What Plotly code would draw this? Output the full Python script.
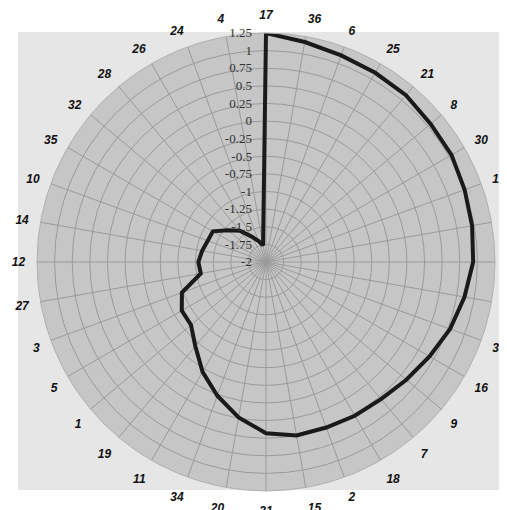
import plotly.graph_objects as go

categories = ["17", "36", "6", "25", "21", "8", "30", "13", "22", "23", "29", "33",
              "16", "9", "7", "18", "2", "15", "31", "20", "34", "11", "19", "1",
              "5", "3", "27", "12", "14", "10", "35", "32", "28", "26", "24", "4"]
values = [1.25, 1.17, 1.12, 1.10, 1.09, 1.05, 1.04, 1.00, 0.97, 0.94, 0.86, 0.78,
          0.68, 0.60, 0.54, 0.52, 0.50, 0.50, 0.43, 0.24, 0.02, -0.20, -0.44, -0.61,
          -0.62, -0.73, -1.06, -1.04, -1.08, -1.12, -1.13, -1.30, -1.42, -1.58, -1.68, -1.76]
radial_ticks = [-2, -1.75, -1.5, -1.25, -1, -0.75, -0.5, -0.25, 0, 0.25, 0.5, 0.75, 1, 1.25]
radial_labels = ["-2", "-1.75", "-1.5", "-1.25", "-1", "-0.75", "-0.5", "-0.25", "0",
                 "0.25", "0.5", "0.75", "1", "1.25"]

# page is offset by the 8px default body margin
OFF = 8
W, H = 507 - OFF, 510 - OFF
cx, cy, R = 266 - OFF, 262 - OFF, 229

fig = go.Figure()
fig.add_trace(go.Scatterpolar(
    r=values + values[:1],
    theta=categories + categories[:1],
    mode="lines",
    line=dict(color="#1a1a1a", width=4),
    hoverinfo="skip",
))

fig.add_shape(type="rect", xref="paper", yref="paper",
              x0=(18 - OFF) / W, x1=1, y0=1 - (490 - OFF) / H, y1=1 - (32 - OFF) / H,
              fillcolor="#e6e6e6", line=dict(width=0), layer="below")

fig.update_layout(
    width=W, height=H,
    margin=dict(l=0, r=0, t=0, b=0),
    paper_bgcolor="white",
    showlegend=False,
    polar=dict(
        domain=dict(x=[(cx - R) / W, (cx + R) / W],
                    y=[1 - (cy + R) / H, 1 - (cy - R) / H]),
        bgcolor="#c6c6c6",
        radialaxis=dict(
            range=[-2, 1.25],
            tickmode="array", tickvals=radial_ticks, ticktext=radial_labels,
            angle=90, tickangle=90, side="counterclockwise",
            showline=False, ticks="outside", ticklen=9, tickcolor="rgba(0,0,0,0)",
            gridcolor="#9a9a9a", gridwidth=1,
            tickfont=dict(family="Liberation Serif", size=13, color="#333333"),
        ),
        angularaxis=dict(
            type="category",
            categoryorder="array", categoryarray=categories,
            direction="clockwise", rotation=90,
            showline=True, linecolor="#b0b0b0", linewidth=1,
            gridcolor="#9a9a9a", gridwidth=1,
            ticks="outside", ticklen=9, tickcolor="rgba(0,0,0,0)",
            tickfont=dict(family="Liberation Sans", size=12, color="#111111",
                          weight="bold", style="italic"),
        ),
    ),
)

fig.write_html("out.html")
